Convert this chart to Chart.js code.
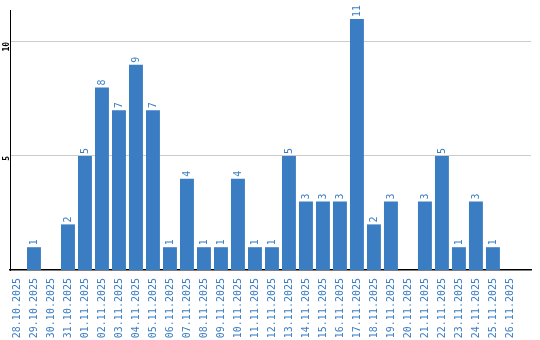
<!DOCTYPE html>
<html>
<head>
<meta charset="utf-8">
<script src="https://cdn.jsdelivr.net/npm/chart.js@4.4.1/dist/chart.umd.min.js"></script>
<style>
  html, body { margin: 0; padding: 0; background: #fff; }
  #wrap { width: 540px; height: 340px; }
</style>
</head>
<body>
<div id="wrap"><canvas id="chart"></canvas></div>
<script>
// Datos del gráfico
const days = ['28.10.2025', '29.10.2025', '30.10.2025', '31.10.2025', '01.11.2025', '02.11.2025',
    '03.11.2025', '04.11.2025', '05.11.2025', '06.11.2025', '07.11.2025', '08.11.2025',
    '09.11.2025', '10.11.2025', '11.11.2025', '12.11.2025', '13.11.2025', '14.11.2025',
    '15.11.2025', '16.11.2025', '17.11.2025', '18.11.2025', '19.11.2025', '20.11.2025',
    '21.11.2025', '22.11.2025', '23.11.2025', '24.11.2025', '25.11.2025', '26.11.2025'];
const counts = [0, 1, 0, 2, 5, 8, 7, 9, 7, 1, 4, 1, 1, 4, 1, 1, 5, 3, 3, 3, 11, 2, 3, 0, 3, 5, 1, 3, 1, 0];
const yTicks = [5, 10];

const blue = '#3b7dc3';

// Etiquetas de valor encima de las barras (giradas)
const valueLabels = {
    id: 'valueLabels',
    afterDatasetsDraw(chart) {
        const ctx = chart.ctx;
        const meta = chart.getDatasetMeta(0);
        ctx.save();
        ctx.fillStyle = blue;
        ctx.font = '10px "DejaVu Sans Mono"';
        ctx.textAlign = 'left';
        ctx.textBaseline = 'middle';
        meta.data.forEach((bar, i) => {
            if (!counts[i]) return;
            ctx.save();
            ctx.translate(bar.x, bar.y - 2);
            ctx.rotate(-Math.PI / 2);
            ctx.fillText(String(counts[i]), 0, 0);
            ctx.restore();
        });
        ctx.restore();
    }
};

new Chart(document.getElementById('chart'), {
    type: 'bar',
    data: {
        datasets: [{
            data: counts.map((v, i) => ({ x: i, y: v })),
            backgroundColor: blue,
            barPercentage: 0.82,
            categoryPercentage: 1
        }]
    },
    options: {
        responsive: true,
        maintainAspectRatio: false,
        animation: false,
        layout: { padding: { top: 10, right: 9, left: 0, bottom: 0 } },
        plugins: { legend: { display: false }, tooltip: { enabled: false } },
        scales: {
            x: {
                type: 'linear',
                offset: false,
                min: -0.41,
                max: 30.24,
                grid: { display: false, offset: false },
                border: { color: '#000', width: 1.5 },
                afterFit: s => { s.height = 70; },
                ticks: {
                    stepSize: 1,
                    includeBounds: false,
                    autoSkip: false,
                    minRotation: 90,
                    maxRotation: 90,
                    padding: 0,
                    color: blue,
                    font: { family: 'DejaVu Sans Mono', size: 10 },
                    callback: v => days[v] ?? ''
                }
            },
            y: {
                min: 0,
                max: 11.4,
                afterFit: s => { s.width = 10; },
                afterBuildTicks: s => { s.ticks = yTicks.map(v => ({ value: v })); },
                grid: { color: '#cccccc', drawTicks: false },
                border: { color: '#000', width: 1 },
                ticks: {
                    minRotation: 90,
                    maxRotation: 90,
                    padding: 3,
                    color: '#000',
                    font: { family: 'DejaVu Sans Mono', size: 8, weight: 'bold' }
                }
            }
        }
    },
    plugins: [valueLabels]
});
</script>
</body>
</html>
